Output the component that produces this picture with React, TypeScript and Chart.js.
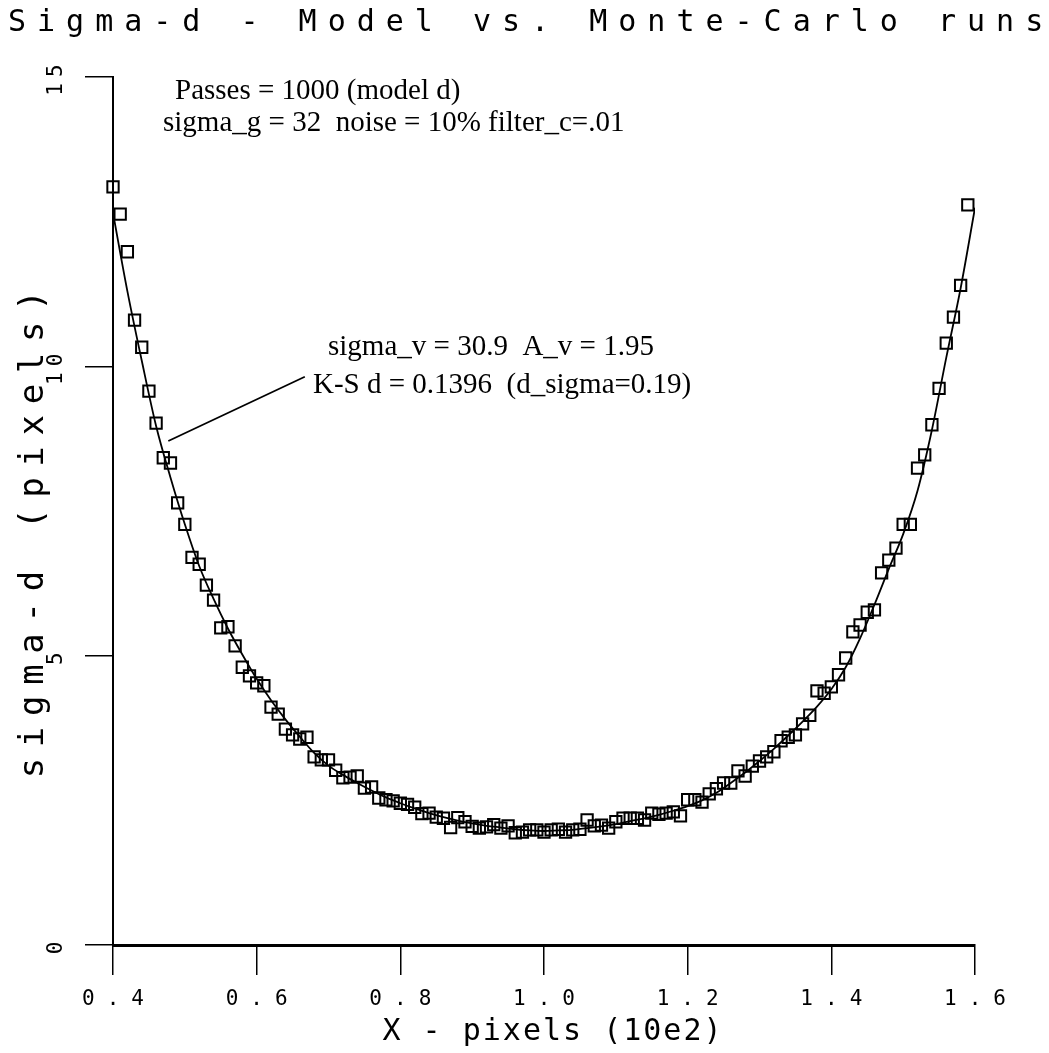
import React, { useEffect, useRef } from "react";
import { Chart, registerables } from "chart.js";

Chart.register(...registerables);

const TITLE = "Sigma-d - Model vs. Monte-Carlo runs";
const X_TITLE = "X - pixels (10e2)";
const Y_TITLE = "sigma-d (pixels)";
const NOTE_TOP = ["Passes = 1000 (model d)", "sigma_g = 32  noise = 10% filter_c=.01"];
const NOTE_FIT = ["sigma_v = 30.9  A_v = 1.95", "K-S d = 0.1396  (d_sigma=0.19)"];

const X_TICKS = [0.4, 0.6, 0.8, 1.0, 1.2, 1.4, 1.6];
const Y_TICKS = [0, 5, 10, 15];

// Monte-Carlo runs (squares)
const mcX = [
  0.40, 0.41, 0.42, 0.43, 0.44, 0.45, 0.46, 0.47, 0.48, 0.49,
  0.50, 0.51, 0.52, 0.53, 0.54, 0.55, 0.56, 0.57, 0.58, 0.59,
  0.60, 0.61, 0.62, 0.63, 0.64, 0.65, 0.66, 0.67, 0.68, 0.69,
  0.70, 0.71, 0.72, 0.73, 0.74, 0.75, 0.76, 0.77, 0.78, 0.79,
  0.80, 0.81, 0.82, 0.83, 0.84, 0.85, 0.86, 0.87, 0.88, 0.89,
  0.90, 0.91, 0.92, 0.93, 0.94, 0.95, 0.96, 0.97, 0.98, 0.99,
  1.00, 1.01, 1.02, 1.03, 1.04, 1.05, 1.06, 1.07, 1.08, 1.09,
  1.10, 1.11, 1.12, 1.13, 1.14, 1.15, 1.16, 1.17, 1.18, 1.19,
  1.20, 1.21, 1.22, 1.23, 1.24, 1.25, 1.26, 1.27, 1.28, 1.29,
  1.30, 1.31, 1.32, 1.33, 1.34, 1.35, 1.36, 1.37, 1.38, 1.39,
  1.40, 1.41, 1.42, 1.43, 1.44, 1.45, 1.46, 1.47, 1.48, 1.49,
  1.50, 1.51, 1.52, 1.53, 1.54, 1.55, 1.56, 1.57, 1.58, 1.59,
];
const mcY = [
  13.10, 12.63, 11.98, 10.80, 10.33, 9.57, 9.02, 8.42, 8.33, 7.64,
  7.27, 6.70, 6.58, 6.22, 5.96, 5.48, 5.50, 5.17, 4.80, 4.65,
  4.53, 4.48, 4.11, 3.99, 3.73, 3.63, 3.56, 3.59, 3.25, 3.20,
  3.20, 3.02, 2.89, 2.90, 2.92, 2.71, 2.73, 2.54, 2.51, 2.49,
  2.45, 2.43, 2.38, 2.27, 2.28, 2.21, 2.19, 2.03, 2.20, 2.13,
  2.05, 2.02, 2.04, 2.08, 2.02, 2.06, 1.94, 1.95, 1.99, 1.99,
  1.95, 1.99, 2.00, 1.95, 1.99, 2.00, 2.16, 2.06, 2.07, 2.02,
  2.13, 2.19, 2.19, 2.19, 2.16, 2.28, 2.26, 2.28, 2.30, 2.23,
  2.51, 2.51, 2.47, 2.61, 2.70, 2.80, 2.80, 3.01, 2.92, 3.09,
  3.18, 3.25, 3.34, 3.53, 3.59, 3.63, 3.82, 3.97, 4.39, 4.35,
  4.46, 4.67, 4.96, 5.41, 5.53, 5.75, 5.79, 6.43, 6.65, 6.86,
  7.27, 7.27, 8.24, 8.47, 8.99, 9.62, 10.40, 10.85, 11.40, 12.79,
];

// Model curve (solid line)
const modelX = [
  0.40, 0.42, 0.44, 0.46, 0.48, 0.50, 0.52, 0.54, 0.56, 0.58,
  0.60, 0.62, 0.64, 0.66, 0.68, 0.70, 0.72, 0.74, 0.76, 0.78,
  0.80, 0.82, 0.84, 0.86, 0.88, 0.90, 0.92, 0.94, 0.96, 0.98,
  1.00, 1.02, 1.04, 1.06, 1.08, 1.10, 1.12, 1.14, 1.16, 1.18,
  1.20, 1.22, 1.24, 1.26, 1.28, 1.30, 1.32, 1.34, 1.36, 1.38,
  1.40, 1.42, 1.44, 1.46, 1.48, 1.50, 1.52, 1.54, 1.56, 1.58,
  1.60,
];
const modelY = [
  12.65, 11.30, 10.10, 8.97, 8.08, 7.27, 6.55, 5.98, 5.47, 5.02,
  4.60, 4.23, 3.90, 3.60, 3.32, 3.10, 2.94, 2.80, 2.67, 2.55,
  2.45, 2.36, 2.28, 2.21, 2.15, 2.10, 2.06, 2.03, 2.00, 1.98,
  1.97, 1.98, 1.99, 2.02, 2.05, 2.09, 2.14, 2.19, 2.25, 2.32,
  2.40, 2.50, 2.63, 2.80, 2.98, 3.18, 3.39, 3.62, 3.86, 4.12,
  4.42, 4.80, 5.30, 5.88, 6.50, 7.10, 7.85, 8.90, 10.15, 11.35,
  12.74,
];

// leader line from the curve to the fit note (data coordinates)
const LEADER_FROM = { x: 0.477, y: 8.71 };
const LEADER_TO = { x: 0.667, y: 9.82 };

const MONO = '"DejaVu Sans Mono", "Liberation Mono", monospace';
const SERIF = '"Liberation Serif", "Times New Roman", serif';

// give a scale's tick labels the spaced-out plotter lettering
function spaceLabels(s: any, spacing: number, dx: number) {
  if (s.__spaced) return;
  const orig = s.drawLabels.bind(s);
  s.drawLabels = (area: any) => {
    const ctx = s.ctx;
    ctx.save();
    ctx.letterSpacing = `${spacing}px`;
    ctx.translate(dx, 0);
    orig(area);
    ctx.restore();
  };
  s.__spaced = true;
}

const decorPlugin = {
  id: "decor",
  afterDraw(chart: any) {
    const ctx = chart.ctx as CanvasRenderingContext2D & { letterSpacing: string };
    const xs = chart.scales.x;
    const ys = chart.scales.y;
    ctx.save();
    ctx.fillStyle = "#000";
    ctx.strokeStyle = "#000";

    // title
    ctx.font = `30px ${MONO}`;
    ctx.letterSpacing = "11px";
    ctx.textAlign = "left";
    ctx.textBaseline = "alphabetic";
    ctx.fillText(TITLE, 8, 31);

    // x axis title
    ctx.letterSpacing = "2px";
    ctx.textAlign = "center";
    ctx.fillText(X_TITLE, 553, 1040);

    // y axis title
    ctx.save();
    ctx.translate(43, 534);
    ctx.rotate(-Math.PI / 2);
    ctx.font = `34px ${MONO}`;
    ctx.letterSpacing = "10.7px";
    ctx.textAlign = "center";
    ctx.fillText(Y_TITLE, 5, 0);
    ctx.restore();

    // notes
    ctx.letterSpacing = "0px";
    ctx.font = `29px ${SERIF}`;
    ctx.textAlign = "left";
    ctx.fillText(NOTE_TOP[0], 175, 99);
    ctx.fillText(NOTE_TOP[1], 163, 131);
    ctx.fillText(NOTE_FIT[0], 328, 355);
    ctx.fillText(NOTE_FIT[1], 313, 393);

    // leader line
    ctx.lineWidth = 1.8;
    ctx.beginPath();
    ctx.moveTo(xs.getPixelForValue(LEADER_FROM.x), ys.getPixelForValue(LEADER_FROM.y));
    ctx.lineTo(xs.getPixelForValue(LEADER_TO.x), ys.getPixelForValue(LEADER_TO.y));
    ctx.stroke();

    ctx.restore();
  },
};

export default function App() {
  const canvasRef = useRef<HTMLCanvasElement | null>(null);

  useEffect(() => {
    const canvas = canvasRef.current;
    if (!canvas) return;
    const mcData = mcX.map((x, i) => ({ x, y: mcY[i] }));
    const modelData = modelX.map((x, i) => ({ x, y: modelY[i] }));

    const chart = new Chart(canvas, {
      type: "scatter",
      data: {
        datasets: [
          {
            type: "line",
            label: "Model",
            data: modelData,
            borderColor: "#000",
            borderWidth: 1.8,
            pointRadius: 0,
            fill: false,
            cubicInterpolationMode: "monotone",
          } as any,
          {
            type: "scatter",
            label: "Monte-Carlo",
            data: mcData,
            pointStyle: "rect",
            pointRadius: 8,
            borderColor: "#000",
            borderWidth: 2,
            backgroundColor: "rgba(0,0,0,0)",
            clip: false,
          } as any,
        ],
      },
      options: {
        responsive: false,
        animation: false,
        devicePixelRatio: 1,
        layout: { padding: { top: 77, right: 74, left: 0, bottom: 0 } },
        plugins: {
          legend: { display: false },
          tooltip: { enabled: false },
          title: { display: false },
        },
        scales: {
          x: {
            type: "linear",
            min: 0.4,
            max: 1.6,
            afterBuildTicks: (s: any) => {
              s.ticks = X_TICKS.map((v) => ({ value: v }));
            },
            afterFit: (s: any) => {
              s.height = 108;
              spaceLabels(s, 12, 6);
            },
            ticks: {
              callback: (v: any) => Number(v).toFixed(1),
              color: "#000",
              font: { family: MONO, size: 21 },
              padding: 12,
              minRotation: 0,
              maxRotation: 0,
              autoSkip: false,
            },
            grid: {
              drawOnChartArea: false,
              drawTicks: true,
              tickLength: 30,
              color: "#000",
              lineWidth: 1.5,
            },
            border: { display: true, color: "#000", width: 3 },
          },
          y: {
            type: "linear",
            min: 0,
            max: 15,
            afterBuildTicks: (s: any) => {
              s.ticks = Y_TICKS.map((v) => ({ value: v }));
            },
            afterFit: (s: any) => {
              s.width = 113;
              spaceLabels(s, 6, 0);
            },
            ticks: {
              callback: (v: any) => String(v),
              color: "#000",
              font: { family: MONO, size: 21 },
              padding: 16,
              minRotation: 90,
              maxRotation: 90,
              crossAlign: "center",
              autoSkip: false,
            },
            grid: {
              drawOnChartArea: false,
              drawTicks: true,
              tickLength: 28,
              color: "#000",
              lineWidth: 1.5,
            },
            border: { display: true, color: "#000", width: 2 },
          },
        },
      } as any,
      plugins: [decorPlugin],
    });

    return () => chart.destroy();
  }, []);

  return (
    <div style={{ position: "fixed", left: 0, top: 0, width: 1049, height: 1053, background: "#fff" }}>
      <canvas ref={canvasRef} width={1049} height={1053} style={{ display: "block" }} />
    </div>
  );
}
